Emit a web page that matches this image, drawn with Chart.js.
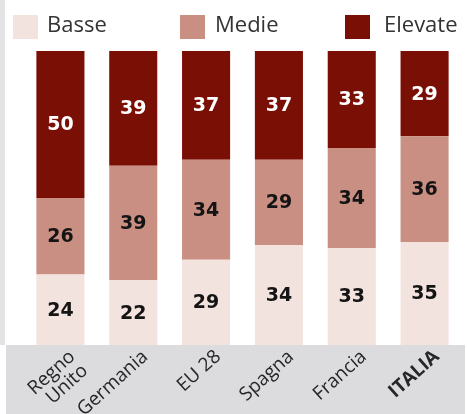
<!DOCTYPE html>
<html>
<head>
<meta charset="utf-8">
<script src="https://cdn.jsdelivr.net/npm/chart.js@4.4.1/dist/chart.umd.min.js"></script>
<style>
  body { margin: 0; background: #fff; }
  #wrap { width: 467px; height: 414px; }
</style>
</head>
<body>
<div id="wrap"><canvas id="quota"></canvas></div>
<script>
// categorie e valori (%)
var paesi = [["Regno", "Unito"], "Germania", "EU 28", "Spagna", "Francia", "ITALIA"];
var basse = [24, 22, 29, 34, 33, 35];
var medie = [26, 39, 34, 29, 34, 36];
var elevate = [50, 39, 37, 37, 33, 29];
var serie = ["Basse", "Medie", "Elevate"];
var colori = ["#f3e3df", "#c98f82", "#7a0f06"];

// sfondo grigio sotto e barra a sinistra
var sfondo = {
  id: "sfondo",
  beforeDraw: function (chart) {
    var ctx = chart.ctx, a = chart.chartArea;
    ctx.save();
    ctx.fillStyle = "#e3e3e6";
    ctx.fillRect(0, 0, 5, a.bottom);
    ctx.fillStyle = "#dcdcdf";
    ctx.fillRect(6, a.bottom, chart.width - 8, chart.height - a.bottom);
    ctx.restore();
  }
};

// legenda disegnata a mano
var legenda = {
  id: "legenda",
  afterDraw: function (chart) {
    var ctx = chart.ctx;
    var xs = [13, 180, 345];
    var tx = [47, 215, 384];
    ctx.save();
    chart.data.datasets.forEach(function (ds, i) {
      ctx.fillStyle = ds.backgroundColor;
      ctx.fillRect(xs[i], 15, 25, 24);
      ctx.fillStyle = "#333";
      ctx.font = "22px 'Open Sans'";
      ctx.textBaseline = "middle";
      ctx.textAlign = "left";
      ctx.fillText(ds.label, tx[i], 26);
    });
    ctx.restore();
  }
};

// etichette dentro le barre
var etichette = {
  id: "etichette",
  afterDatasetsDraw: function (chart) {
    var ctx = chart.ctx;
    ctx.save();
    ctx.font = "bold 19px 'DejaVu Sans'";
    ctx.textAlign = "center";
    ctx.textBaseline = "middle";
    chart.data.datasets.forEach(function (ds, i) {
      var meta = chart.getDatasetMeta(i);
      meta.data.forEach(function (bar, j) {
        ctx.fillStyle = i === 2 ? "#fff" : "#141414";
        ctx.fillText(ds.data[j], bar.x, (bar.y + bar.base) / 2 + 1);
      });
    });
    ctx.restore();
  }
};

new Chart("quota", {
  type: "bar",
  data: {
    labels: paesi,
    datasets: [
      { label: serie[0], data: basse, backgroundColor: colori[0] },
      { label: serie[1], data: medie, backgroundColor: colori[1] },
      { label: serie[2], data: elevate, backgroundColor: colori[2] }
    ]
  },
  options: {
    responsive: true,
    maintainAspectRatio: false,
    animation: false,
    layout: { padding: { top: 51, left: 24, right: 6, bottom: 0 } },
    datasets: { bar: { categoryPercentage: 1, barPercentage: 0.66 } },
    plugins: { legend: { display: false }, tooltip: { enabled: false } },
    scales: {
      x: {
        stacked: true,
        grid: { display: false },
        border: { display: false },
        afterFit: function (s) { s.height = 69; },
        ticks: {
          color: "#262626",
          maxRotation: 42,
          minRotation: 42,
          padding: -6,
          labelOffset: 12,
          font: function (c) {
            return { family: "'Open Sans'", size: 19, lineHeight: 1.0, weight: c.index === 5 ? "bold" : "normal" };
          }
        }
      },
      y: { stacked: true, display: false, min: 0, max: 100 }
    }
  },
  plugins: [sfondo, legenda, etichette]
});
</script>
</body>
</html>
